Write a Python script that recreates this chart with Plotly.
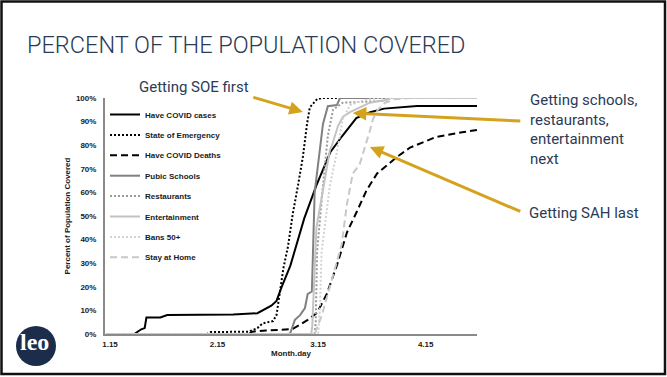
import plotly.graph_objects as go

# x values are day-of-year in 2020 (Jan 15 = 15, Feb 15 = 46, Mar 15 = 75, Apr 15 = 106)
tick_days = [15, 46, 75, 106]
tick_labels = ["1.15", "2.15", "3.15", "4.15"]

cases_day = [14, 22, 24, 25, 25.5, 29.5, 31.5, 50.5, 57.5, 59, 61.5, 63, 64.5, 67, 71, 74.5, 78.5, 82, 86, 90, 94, 103.5, 121]
cases_pct = [0, 0, 2, 2.5, 7, 7, 8, 8.3, 8.8, 10, 12, 14, 20, 29, 49, 63, 77, 84, 91.5, 94, 95.5, 96.6, 96.6]

soe_day = [14, 43, 44, 55, 57.5, 59, 62, 63, 64, 65, 66.3, 67.7, 69.2, 70.6, 71.8, 72.6, 74.7, 76, 121]
soe_pct = [0, 0, 0.8, 1, 2.5, 4.5, 5.5, 8, 18, 28, 37, 51, 63, 75, 89, 96, 99.5, 100, 100]

deaths_day = [14, 55, 56, 60, 67, 67.7, 69.8, 72, 74.7, 77.5, 80.4, 83.3, 86.2, 89, 92, 97.7, 101.5, 109, 117, 121]
deaths_pct = [0, 0, 1, 1.5, 2, 2.2, 4, 6, 9, 17, 29, 43, 52, 61, 68, 75, 79, 83.5, 85.6, 86.5]

schools_day = [14, 66.5, 67, 68.3, 69.8, 71.2, 72, 73.2, 74, 75.2, 76.4, 77.8, 80.4, 81.3, 121]
schools_pct = [0, 0, 0.5, 6, 8, 11, 17, 18, 60, 75, 89, 96.5, 97, 100, 100]

restaurants_day = [14, 74, 74.3, 74.7, 76.4, 77.8, 79.3, 82.1, 93.7, 95.7, 121]
restaurants_pct = [0, 0, 5, 35, 63, 84, 95, 98, 98.8, 100, 100]

entertainment_day = [14, 73, 73.3, 74.5, 76.4, 78.4, 79, 80.7, 82.1, 84.2, 89.9, 94.3, 96, 121]
entertainment_pct = [0, 0, 3, 45, 61, 78, 80, 88, 92, 94, 98, 99, 100, 100]

bans_day = [14, 75, 75.5, 76, 78.4, 80.4, 82.1, 84.2, 88, 92, 121]
bans_pct = [0, 0, 10, 35, 63, 77, 91, 97, 99, 100, 100]

sah_day = [14, 74, 76.1, 77.8, 80.4, 81.8, 83.3, 85, 87, 88.5, 89.9, 90.8, 92.2, 94.3, 97.1, 101.5, 121]
sah_pct = [0, 0, 8, 17, 30, 38, 55, 68, 72, 79, 86, 91, 95, 98, 99.5, 100, 100]

series = [
    ("Have COVID cases", cases_day, cases_pct, "#000000", "solid"),
    ("State of Emergency", soe_day, soe_pct, "#000000", "2px,2px"),
    ("Have COVID Deaths", deaths_day, deaths_pct, "#000000", "7px,4px"),
    ("Pubic Schools", schools_day, schools_pct, "#808080", "solid"),
    ("Restaurants", restaurants_day, restaurants_pct, "#9a9a9a", "2px,2px"),
    ("Entertainment", entertainment_day, entertainment_pct, "#c3c3c3", "solid"),
    ("Bans 50+", bans_day, bans_pct, "#d2d2d2", "2px,2px"),
    ("Stay at Home", sah_day, sah_pct, "#c8c8c8", "7px,4px"),
]

W, H = 667, 377
L, R, T, B = 105, 190, 98, 43
PW, PH = W - L - R, H - T - B


def px(x):
    return (x - L) / PW


def py(y):
    return (H - B - y) / PH


NAVY = "#2b3a55"
GOLD = "#d4a21c"
AXIS_FONT = dict(family="Liberation Sans, Arial", size=8, color="#1a1a1a", weight="bold")

fig = go.Figure()
for i, (name, xs, ys, color, dash) in enumerate(series):
    fig.add_trace(go.Scatter(
        x=xs, y=ys, name=name, mode="lines", legendgroup=f"g{i}",
        line=dict(color=color, width=2, dash=dash),
        hoverinfo="skip",
    ))

fig.update_layout(
    width=W, height=H,
    margin=dict(l=L, r=R, t=T, b=B, pad=0),
    paper_bgcolor="white", plot_bgcolor="white",
    title=dict(
        text="PERCENT OF THE POPULATION COVERED",
        x=27 / W, y=1 - 45 / H, xref="container", yref="container",
        xanchor="left", yanchor="middle",
        font=dict(family="Roboto", size=23.5, color=NAVY, weight=300),
    ),
    showlegend=True,
    legend=dict(
        x=0.0, y=py(100), xanchor="left", yanchor="top",
        bgcolor="rgba(0,0,0,0)", font=AXIS_FONT,
        tracegroupgap=1.4, itemwidth=30,
    ),
    xaxis=dict(
        range=[13.56, 120.8], tickvals=tick_days, ticktext=tick_labels,
        showline=True, linecolor="#8a8a8a", linewidth=2,
        ticks="outside", ticklen=1, tickcolor="rgba(0,0,0,0)",
        showgrid=False, zeroline=False, tickfont=AXIS_FONT,
        title=dict(text="Month.day", font=AXIS_FONT, standoff=1),
    ),
    yaxis=dict(
        range=[0, 100], dtick=10, ticksuffix="%",
        showline=True, linecolor="#8a8a8a", linewidth=2,
        ticks="outside", ticklen=5, tickcolor="rgba(0,0,0,0)",
        showgrid=False, zeroline=False, tickfont=AXIS_FONT,
        title=dict(text="Percent of Population Covered", font=AXIS_FONT, standoff=4),
    ),
)

# page border
fig.add_shape(type="rect", xref="paper", yref="paper",
              x0=px(1.5), x1=px(665), y0=py(374), y1=py(1.5),
              line=dict(color="#111111", width=2.5), fillcolor="rgba(0,0,0,0)", layer="above")

# logo badge
fig.add_shape(type="circle", xref="paper", yref="paper",
              x0=px(16), x1=px(56), y0=py(366), y1=py(326),
              line=dict(width=0), fillcolor="#1b2d4b")
fig.add_annotation(x=px(34), y=py(342), xref="paper", yref="paper", text="<b>leo</b>",
                   showarrow=False, xanchor="center", yanchor="middle",
                   font=dict(family="Liberation Serif, DejaVu Serif", size=24, color="white"))

callout_font = dict(family="Roboto", size=15, color=NAVY)
fig.add_annotation(x=px(137), y=py(87), xref="paper", yref="paper", text="Getting SOE first",
                   showarrow=False, xanchor="left", yanchor="middle", font=callout_font)
fig.add_annotation(x=px(528), y=py(89), xref="paper", yref="paper",
                   text="Getting schools,<br>restaurants,<br>entertainment<br>next",
                   showarrow=False, xanchor="left", yanchor="top", align="left", font=callout_font)
fig.add_annotation(x=px(527), y=py(213), xref="paper", yref="paper", text="Getting SAH last",
                   showarrow=False, xanchor="left", yanchor="middle", font=callout_font)

# gold pointer arrows (head in data space, tail offset in pixels)
for hx, hy, ax, ay in [(70.6, 94.1, -51, -15), (85.0, 93.6, 169, 8), (89.9, 79.2, 152, 65)]:
    fig.add_annotation(x=hx, y=hy, xref="x", yref="y", ax=ax, ay=ay, text="",
                       showarrow=True, arrowhead=2, arrowsize=0.9, arrowwidth=3,
                       arrowcolor=GOLD, standoff=0)

fig.write_html("out.html")
